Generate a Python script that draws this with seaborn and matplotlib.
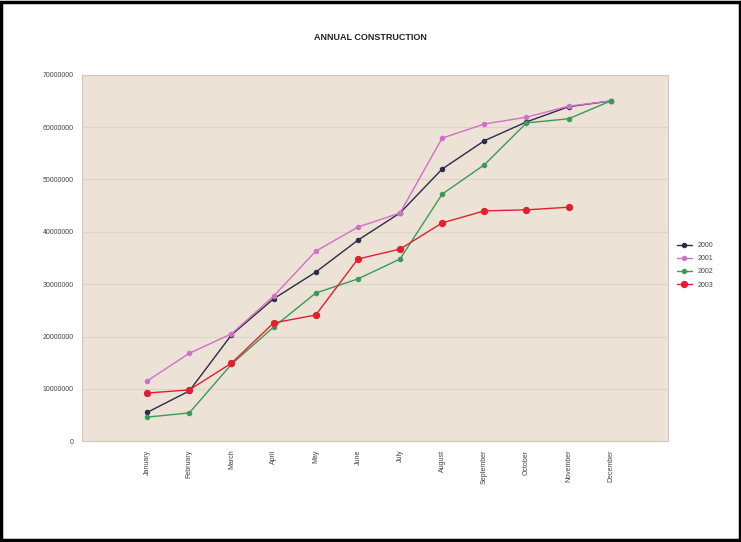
import numpy as np
import pandas as pd
import seaborn as sns
import matplotlib.pyplot as plt

months = ["January", "February", "March", "April", "May", "June", "July",
          "August", "September", "October", "November", "December"]
years = ["2000", "2001", "2002", "2003"]

# values in millions
v2000 = [5.5, 9.6, 20.3, 27.2, 32.3, 38.4, 43.6, 52.0, 57.4, 61.0, 63.9, 65.0]
v2001 = [11.5, 16.8, 20.5, 27.7, 36.3, 40.9, 43.6, 57.9, 60.6, 61.9, 64.0, 65.0]
v2002 = [4.6, 5.4, 14.7, 21.8, 28.3, 31.0, 34.8, 47.2, 52.8, 60.8, 61.6, 65.0]
v2003 = [9.2, 9.8, 14.9, 22.6, 24.1, 34.8, 36.7, 41.7, 44.0, 44.2, 44.7, np.nan]

colors = {"2000": "#2b2b4a", "2001": "#d070c8", "2002": "#3a9a5a", "2003": "#e02030"}
msizes = {"2000": 3.2, "2001": 3.2, "2002": 3.2, "2003": 4.5}

rows = []
for yr, vals in zip(years, [v2000, v2001, v2002, v2003]):
    for i, v in enumerate(vals):
        rows.append({"idx": i, "month": months[i], "year": yr, "value": v * 1e6})
df = pd.DataFrame(rows)

sns.set_style("white")
plt.rcParams["font.family"] = ["Liberation Sans", "DejaVu Sans"]

fig = plt.figure(figsize=(7.41, 5.42), dpi=100)
ax = fig.add_axes([0.111, 0.186, 0.79, 0.676])
ax.set_facecolor("#ece2d5")

for yr in years:
    sub = df[df["year"] == yr].dropna()
    sns.lineplot(data=sub, x="idx", y="value", ax=ax, color=colors[yr],
                 marker="o", markersize=msizes[yr], markeredgecolor=colors[yr],
                 linewidth=1.0, label=yr)

ax.set_ylim(0, 70000000)
ax.set_yticks(np.arange(0, 70000001, 10000000))
ax.set_yticklabels([str(int(t)) for t in np.arange(0, 70000001, 10000000)],
                   fontsize=5, color="#444444")
ax.set_xlim(-1.54, 12.35)
ax.set_xticks(range(12))
ax.set_xticklabels(months, rotation=90, fontsize=5, color="#444444")
ax.tick_params(axis="both", length=2, color="#999999", pad=4)
ax.yaxis.grid(True, color="#ddd4c7", linewidth=0.8)
ax.set_axisbelow(True)
ax.set_xlabel("")
ax.set_ylabel("")
for s in ax.spines.values():
    s.set_color("#cfc8be")
    s.set_linewidth(0.8)

ax.legend(loc="center left", bbox_to_anchor=(1.005, 0.48), frameon=False,
          fontsize=5, handlelength=2.2, labelspacing=0.9, labelcolor="#444444")

fig.text(0.5, 0.93, "ANNUAL CONSTRUCTION", ha="center", va="center",
         fontsize=6.5, fontweight="bold", color="#222222")

# black frame around the whole chart
fig.patches.append(plt.Rectangle((0.002, 0.003), 0.996, 0.994, transform=fig.transFigure,
                                 fill=False, edgecolor="black", linewidth=2.5))

fig.savefig("out.png", dpi=100, facecolor="white")
